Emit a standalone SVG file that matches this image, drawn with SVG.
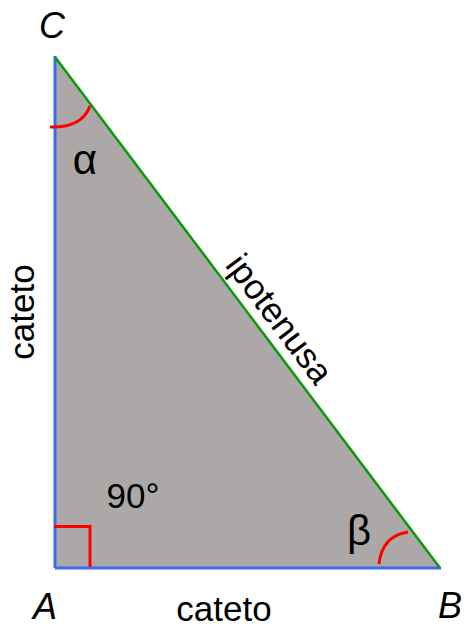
<svg xmlns="http://www.w3.org/2000/svg" width="467" height="630" viewBox="0 0 467 630">
<style>
text{font-family:"Liberation Sans",Arial,sans-serif;fill:#000}
.v{font-style:italic;font-size:36px}
.l{font-size:35px}
.g{font-size:42px}
.r{fill:none;stroke:#ff0000;stroke-width:3}
</style>
<rect width="467" height="630" fill="#fff"/>
<g id="triangle">
<polygon points="55,57 55,568 440,568" fill="#aca8a7"/>
</g>
<g id="connectors">
<line x1="55" y1="56" x2="55" y2="568" stroke="#3a6cf0" stroke-width="3"/>
<line x1="55" y1="568" x2="441" y2="568" stroke="#3a6cf0" stroke-width="3"/>
<line x1="55" y1="57" x2="440" y2="568" stroke="#0a9a0a" stroke-width="2.5"/>
</g>
<g id="marks">
<path class="r" d="M54,526.5 H90 V567"/>
<path class="r" d="M50,127 Q82,128 90,106"/>
<path class="r" d="M379,564 Q382,536 408,532"/>
</g>
<g id="labels">
<text class="v" x="52" y="38" text-anchor="middle">C</text>
<text class="v" x="45" y="619" text-anchor="middle">A</text>
<text class="v" x="450" y="618" text-anchor="middle">B</text>
<text class="g" x="85" y="174" text-anchor="middle">α</text>
<text class="g" x="359" y="545" text-anchor="middle">β</text>
<text class="l" x="133" y="508" text-anchor="middle">90°</text>
<text class="l" x="224" y="621" text-anchor="middle">cateto</text>
<text class="l" transform="translate(34,312) rotate(-90)" text-anchor="middle">cateto</text>
<text class="l" transform="translate(270,326) rotate(53)" text-anchor="middle">ipotenusa</text>
</g>
</svg>
